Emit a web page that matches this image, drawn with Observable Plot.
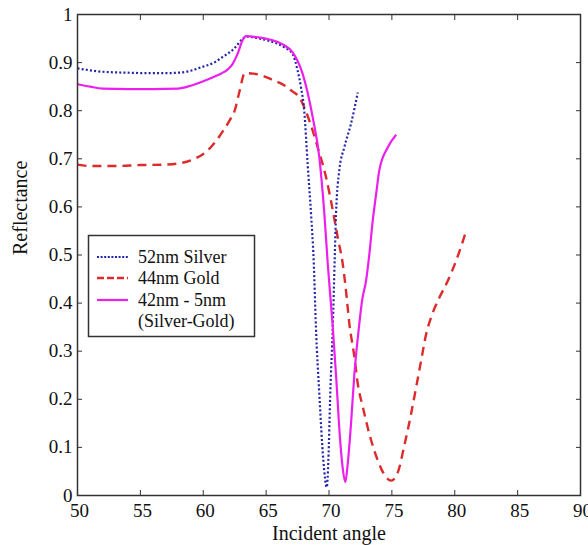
<!DOCTYPE html>
<html>
<head>
<meta charset="utf-8">
<script src="https://cdn.jsdelivr.net/npm/d3@7"></script>
<script src="https://cdn.jsdelivr.net/npm/@observablehq/plot@0.6"></script>
<style>
  html, body { margin: 0; padding: 0; background: #fff; }
  #chart { width: 588px; height: 545px; overflow: hidden; }
</style>
</head>
<body>
<div id="chart"></div>
<script>
// ---- Data ----
const silverAngle = [50, 51, 52, 54, 56, 57, 58, 59, 59.8, 61, 61.5, 62.45, 63.12, 63.4, 64.5, 65.12, 66.44, 67.1, 67.5, 67.77, 68.03, 68.3, 68.57, 68.78, 68.96, 69.23, 69.55, 69.82, 69.95, 70.1, 70.3, 70.45, 70.56, 70.82, 71.22, 71.75, 72.29];
const silverR     = [0.888, 0.884, 0.881, 0.879, 0.878, 0.878, 0.879, 0.883, 0.89, 0.902, 0.911, 0.929, 0.949, 0.954, 0.95, 0.946, 0.932, 0.918, 0.884, 0.849, 0.8, 0.69, 0.586, 0.489, 0.35, 0.211, 0.073, 0.017, 0.073, 0.211, 0.35, 0.489, 0.586, 0.676, 0.724, 0.773, 0.838];

const goldAngle = [50, 51, 53, 55, 57, 58.2, 59.3, 60, 60.6, 61.1, 61.6, 62.1, 62.5, 62.9, 63.3, 64, 64.8, 65.6, 66.5, 67, 67.63, 68.43, 69.1, 69.76, 70.3, 70.69, 71.09, 71.35, 71.62, 72.02, 72.29, 72.69, 73.21, 73.88, 74.54, 74.94, 75.47, 76, 76.53, 76.93, 77.33, 77.73, 78.13, 78.79, 79.46, 80.12, 80.92];
const goldR     = [0.688, 0.685, 0.685, 0.687, 0.688, 0.691, 0.7, 0.71, 0.724, 0.74, 0.759, 0.78, 0.8, 0.842, 0.878, 0.877, 0.872, 0.863, 0.852, 0.842, 0.828, 0.78, 0.724, 0.662, 0.593, 0.537, 0.482, 0.426, 0.357, 0.288, 0.232, 0.184, 0.128, 0.073, 0.038, 0.031, 0.048, 0.105, 0.17, 0.225, 0.281, 0.336, 0.371, 0.412, 0.447, 0.489, 0.551];

const bilayerAngle = [50, 51, 52, 54, 56, 58, 59, 59.8, 61, 61.4, 62, 62.33, 62.73, 63.12, 63.4, 64.5, 65.12, 66.44, 67.1, 67.9, 68.7, 69.23, 69.63, 69.9, 70.3, 70.56, 70.9, 71.1, 71.3, 71.49, 71.75, 72.02, 72.41, 72.63, 72.95, 73.21, 73.48, 73.75, 74, 74.68, 75.34];
const bilayerR     = [0.855, 0.85, 0.846, 0.845, 0.845, 0.846, 0.852, 0.859, 0.872, 0.877, 0.887, 0.897, 0.918, 0.946, 0.955, 0.952, 0.949, 0.936, 0.922, 0.877, 0.787, 0.703, 0.586, 0.482, 0.35, 0.25, 0.11, 0.055, 0.028, 0.066, 0.149, 0.253, 0.357, 0.405, 0.447, 0.502, 0.572, 0.627, 0.676, 0.724, 0.75];

const seriesNames = ["52nm Silver", "44nm Gold", "42nm - 5nm"];
const seriesNote  = "(Silver-Gold)";
const xTicks = [50, 55, 60, 65, 70, 75, 80, 85, 90];
const yTicks = [0, 0.1, 0.2, 0.3, 0.4, 0.5, 0.6, 0.7, 0.8, 0.9, 1];
const xTitle = "Incident angle";
const yTitle = "Reflectance";

// ---- Styles ----
const colors = ["#2424a8", "#dd2b2b", "#ec20ec"];
const dashes = ["2,2.2", "9,6", null];
const widths = [2.2, 2.4, 2.2];
const FONT = "'Liberation Serif', 'Times New Roman', serif";

const table = [];
[[silverAngle, silverR], [goldAngle, goldR], [bilayerAngle, bilayerR]].forEach(([a, r], k) => {
  a.forEach((v, i) => table.push({angle: v, r: r[i], series: seriesNames[k]}));
});

const lineMark = (k) => Plot.line(table.filter(d => d.series === seriesNames[k]), {
  x: "angle", y: "r", stroke: colors[k], strokeWidth: widths[k],
  strokeDasharray: dashes[k], strokeLinecap: "butt", curve: "monotone-x"
});

const chart = Plot.plot({
  width: 588, height: 545,
  marginTop: 14, marginBottom: 50, marginLeft: 77, marginRight: 8,
  style: {fontFamily: FONT, fontSize: "19px", background: "#fff", color: "#111", overflow: "visible"},
  x: {domain: [50, 90]},
  y: {domain: [0, 1]},
  marks: [
    lineMark(1), lineMark(0), lineMark(2),
    Plot.frame({stroke: "#333", strokeWidth: 1.5}),
    // inward ticks on all four sides
    Plot.axisX(xTicks, {anchor: "bottom", tickSize: -5, tickFormat: () => "", label: null, stroke: "#333"}),
    Plot.axisX(xTicks, {anchor: "top", tickSize: -5, tickFormat: () => "", label: null, stroke: "#333"}),
    Plot.axisY(yTicks, {anchor: "left", tickSize: -5, tickFormat: () => "", label: null, stroke: "#333"}),
    Plot.axisY(yTicks, {anchor: "right", tickSize: -5, tickFormat: () => "", label: null, stroke: "#333"}),
    // tick labels
    Plot.axisX(xTicks, {anchor: "bottom", tickSize: 0, tickPadding: 8, label: null, fontSize: 19, fontFamily: FONT, dx: 2}),
    Plot.axisY(yTicks, {anchor: "left", tickSize: 0, tickPadding: 5, tickFormat: d => String(d), label: null, fontSize: 19, fontFamily: FONT}),
    // axis titles
    Plot.text([xTitle], {frameAnchor: "bottom", dy: 38, lineAnchor: "middle", fontSize: 20, fontFamily: FONT, fill: "#111"}),
    Plot.text([yTitle], {frameAnchor: "left", dx: -57, rotate: -90, lineAnchor: "middle", fontSize: 20, fontFamily: FONT, fill: "#111"})
  ]
});
document.getElementById("chart").appendChild(chart);

// ---- Legend box ----
const svg = d3.select(chart);
const lg = svg.append("g").attr("font-family", FONT).attr("font-size", 18)
  .attr("fill", "#111").attr("text-anchor", "start");
lg.append("rect").attr("x", 88.5).attr("y", 235.5).attr("width", 166).attr("height", 101)
  .attr("fill", "#fff").attr("stroke", "#333").attr("stroke-width", 1.5);
const rowY = [257, 278, 300];
seriesNames.forEach((name, k) => {
  lg.append("line").attr("x1", 97).attr("x2", 128).attr("y1", rowY[k]).attr("y2", rowY[k])
    .attr("stroke", colors[k]).attr("stroke-width", widths[k])
    .attr("stroke-dasharray", dashes[k] ? (k === 0 ? "2,1.6" : "7,3") : null);
  lg.append("text").attr("x", 138).attr("y", rowY[k]).attr("dy", "0.32em").text(name);
});
lg.append("text").attr("x", 138).attr("y", 321).attr("dy", "0.32em").text(seriesNote);
</script>
</body>
</html>
